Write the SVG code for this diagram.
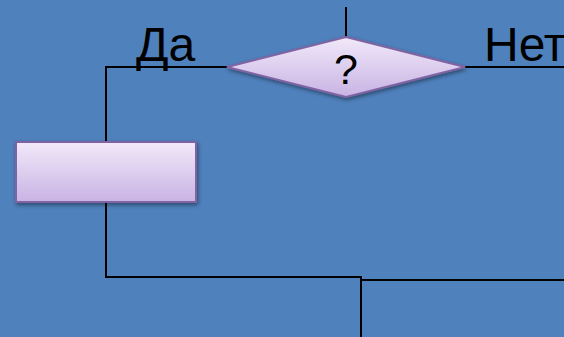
<svg xmlns="http://www.w3.org/2000/svg" width="564" height="337" viewBox="0 0 564 337">
  <defs>
    <linearGradient id="fillLav" x1="0" y1="0" x2="0" y2="1">
      <stop offset="0" stop-color="#F1E9F9"/>
      <stop offset="1" stop-color="#C9B3E4"/>
    </linearGradient>
    <filter id="shadow" x="-10%" y="-20%" width="125%" height="150%">
      <feGaussianBlur in="SourceAlpha" stdDeviation="2"/>
      <feOffset dx="1" dy="2" result="b"/>
      <feComponentTransfer><feFuncA type="linear" slope="0.45"/></feComponentTransfer>
      <feMerge><feMergeNode/><feMergeNode in="SourceGraphic"/></feMerge>
    </filter>
    <style>
      .shape { fill: url(#fillLav); stroke: #8064A2; stroke-width: 2; }
      .wire { fill: none; stroke: #000; stroke-width: 2; }
      .lbl { font-family: "Liberation Sans", Arial, sans-serif; fill: #000; }
    </style>
  </defs>
  <rect width="564" height="337" fill="#4F81BD"/>

  <g id="connectors">
    <line class="wire" x1="346" y1="7" x2="346" y2="37"/>
    <polyline class="wire" points="227,67 106,67 106,142"/>
    <line class="wire" x1="465" y1="67" x2="564" y2="67"/>
    <polyline class="wire" points="106,202 106,277 361,277 361,337"/>
    <line class="wire" x1="361" y1="280" x2="564" y2="280"/>
  </g>

  <g id="decision">
    <polygon class="shape" points="346,37 465,67 346,97 227,67" filter="url(#shadow)"/>
    <text class="lbl" x="346" y="84" font-size="43" text-anchor="middle">?</text>
  </g>

  <g id="process">
    <rect class="shape" x="16" y="142" width="180" height="60" filter="url(#shadow)"/>
  </g>

  <g id="label-yes">
    <text class="lbl" x="136" y="61" font-size="48">Да</text>
  </g>
  <g id="label-no">
    <text class="lbl" x="484" y="61" font-size="48">Нет</text>
  </g>
</svg>
